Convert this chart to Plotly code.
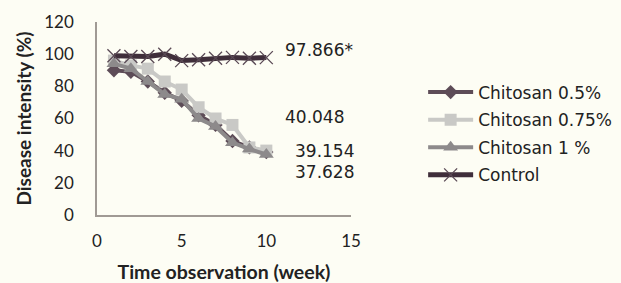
import plotly.graph_objects as go

weeks = [1, 2, 3, 4, 5, 6, 7, 8, 9, 10]
chitosan_05 = [90, 89, 83, 76, 71, 62, 56, 46, 42, 39.154]
chitosan_075 = [96, 93, 91, 83, 78, 67, 60, 56, 42, 40.048]
chitosan_1 = [94, 91, 83, 75, 72, 60, 55, 45, 41, 37.628]
control = [99, 98.5, 98.5, 100, 96, 96.5, 97.5, 98, 97.5, 97.866]

end_labels = ["97.866*", "40.048", "39.154", "37.628"]
end_label_x = [11.0, 11.0, 11.6, 11.6]
end_label_y = [102.5, 61, 40, 27]
x_ticks = [0, 5, 10, 15]
y_ticks = [0, 20, 40, 60, 80, 100, 120]

bg = "#fdfdf4"
fig = go.Figure()

series = [
    ("Chitosan 0.5%", chitosan_05, "#5d4c57", "diamond", 11, 4),
    ("Chitosan 0.75%", chitosan_075, "#c9c9c6", "square", 12, 4),
    ("Chitosan 1 %", chitosan_1, "#8d8a8b", "triangle-up", 13, 4),
]
for name, vals, col, sym, size, lw in series:
    fig.add_trace(go.Scatter(
        x=weeks, y=vals, name=name, mode="lines+markers",
        line=dict(color=col, width=lw),
        marker=dict(symbol=sym, size=size, color=col),
        legendgroup=name,
    ))
fig.add_trace(go.Scatter(
    x=weeks, y=control, name="Control", mode="lines+markers",
    line=dict(color="#3f2e3a", width=5),
    marker=dict(symbol="x-thin", size=13, line=dict(color="#5a4a55", width=1.3)),
    legendgroup="Control",
))

for txt, xv, yv in zip(end_labels, end_label_x, end_label_y):
    fig.add_annotation(x=xv, y=yv, text=txt, showarrow=False, xanchor="left",
                       font=dict(family="DejaVu Sans", size=17, color="#222"))

fig.update_layout(
    width=621, height=283,
    margin=dict(l=97, r=270, t=22, b=68, autoexpand=False),
    paper_bgcolor=bg, plot_bgcolor=bg,
    showlegend=True,
    legend=dict(x=1.284, y=0.728, xanchor="left", yanchor="top",
                font=dict(family="DejaVu Sans", size=17, color="#222"),
                bgcolor="rgba(0,0,0,0)", itemwidth=45, tracegroupgap=2.5),
    font=dict(family="Lato", color="#222"),
)
fig.update_xaxes(range=[0, 15], tickvals=x_ticks, showgrid=False, zeroline=False,
                 showline=True, linecolor="#a09a94", linewidth=1.5, automargin=False,
                 ticks="", ticklabelstandoff=10, tickfont=dict(size=17, family="Lato"),
                 title=dict(text="<b>Time observation (week)</b>", font=dict(size=19.5, family="Lato"), standoff=15))
fig.update_yaxes(range=[0, 120], tickvals=y_ticks, showgrid=False, zeroline=False,
                 showline=True, linecolor="#a09a94", linewidth=1.5, automargin=False,
                 ticks="", ticklabelstandoff=18, tickfont=dict(size=17, family="Lato"),
                 title=dict(text="<b>Disease intensity (%)</b>", font=dict(size=19, family="Lato"), standoff=8))

fig.write_html("out.html", config={"displayModeBar": False},
               post_script="document.body.style.margin='0';document.body.style.background='#fdfdf4';document.body.style.overflow='hidden';")
